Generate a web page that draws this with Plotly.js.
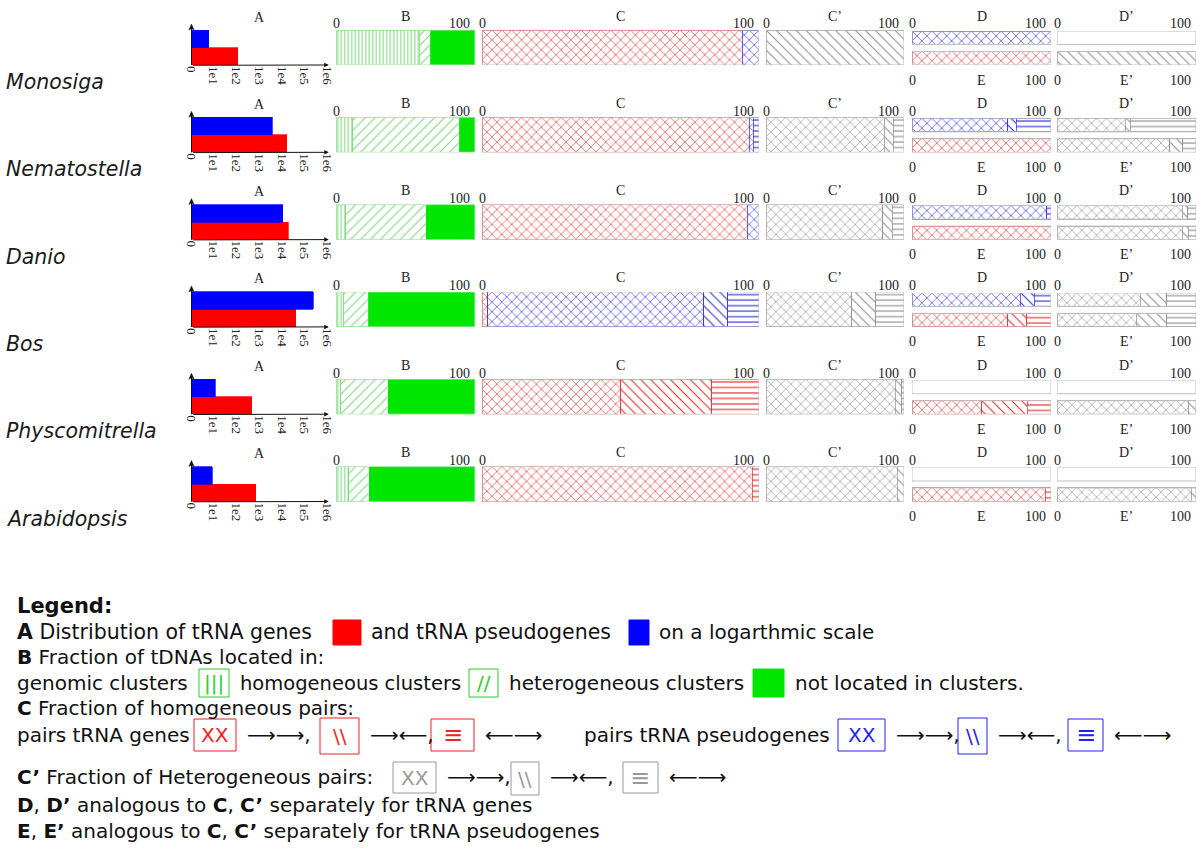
<!DOCTYPE html>
<html><head><meta charset="utf-8">
<script src="https://cdn.plot.ly/plotly-3.0.1.min.js"></script>
<style>html,body{margin:0;padding:0;background:#fff}</style>
</head><body><div id="chart" style="width:1200px;height:849px"></div>
<script>
// ---------------- DATA ----------------
const organisms = ["Monosiga","Nematostella","Danio","Bos","Physcomitrella","Arabidopsis"];
// A: number of tRNA genes / pseudogenes (log scale)
const tRNAGenes       = [115, 16500, 19000, 42000, 470, 720];
const tRNAPseudogenes = [6, 3800, 11000, 245000, 12, 8.5];
const aTickVals = [1,10,100,1000,10000,100000,1000000];
const aTickText = ["0","1e1","1e2","1e3","1e4","1e5","1e6"];
// B: fraction (%) of tDNAs
const bGenomic      = [60, 12, 7, 5.5, 3.5, 9];
const bHomogeneous  = [8, 77, 58, 18, 34, 15];
const bNotClustered = [32, 11, 35, 76.5, 62.5, 76];
// C: homogeneous pairs (%)
const cGeneSame   = [94, 96.5, 95.7, 2, 50, 97.5];
const cGeneConv   = [0, 0, 0, 0, 33, 0];
const cGeneDiv    = [0, 0, 0, 0, 17, 2.5];
const cPseudoSame = [6, 1.5, 4.3, 78, 0, 0];
const cPseudoConv = [0, 0, 0, 8.8, 0, 0];
const cPseudoDiv  = [0, 2, 0, 11.2, 0, 0];
// C': heterogeneous pairs (%)
const cpSame = [0, 85.7, 84.5, 62, 93.5, 95];
const cpConv = [100, 6.5, 7, 17.6, 4.8, 5];
const cpDiv  = [0, 7.8, 8.5, 20.4, 1.7, 0];
// D (upper bar) and E (lower bar)
const dSame = [100, 69, 97, 78, 0, 0];
const dConv = [0, 6, 0, 10, 0, 0];
const dDiv  = [0, 25, 3, 12, 0, 0];
const eSame = [100, 100, 100, 69, 50, 96];
const eConv = [0, 0, 0, 13.5, 33, 0];
const eDiv  = [0, 0, 0, 17.5, 17, 4];
// D' (upper bar) and E' (lower bar)
const dpSame = [0, 49, 90, 60, 0, 0];
const dpConv = [0, 3.6, 4, 19, 0, 0];
const dpDiv  = [0, 47.4, 6, 21, 0, 0];
const epSame = [0, 81, 90, 57, 94.5, 96.4];
const epConv = [100, 9.6, 4.5, 22, 5.5, 3.6];
const epDiv  = [0, 9.4, 5.5, 21, 0, 0];

// ---------------- STYLE / LAYOUT ----------------
const W = 1200, H = 849;
const SERIF = 'Liberation Serif, DejaVu Serif, serif';
const SANS = 'DejaVu Sans, sans-serif';
const ROW0 = 30, PITCH = 87.3, BARH = 35;
const PX = {A:[191,329], B:[336,475], C:[482,759], Cp:[766,904], D:[912,1051], Dp:[1057,1196]};
const RED = '#e42a2a', BLUE = '#2a2ae0', GRAY = '#8e8e8e', GREENH = '#7ad87a', GREEN = '#00e600';
const PX_X  = {shape:'x', size:7, solidity:0.17};
const PX_BS = {shape:'\\', size:7, solidity:0.15};
const PX_H  = {shape:'-', size:5.5, solidity:0.2};
const PX_V  = {shape:'|', size:3.5, solidity:0.3};
const PX_FS = {shape:'/', size:7, solidity:0.15};

const data = [], annotations = [], shapes = [];
const layout = {width:W, height:H, margin:{l:0,r:0,t:0,b:0}, paper_bgcolor:'#fff',
  plot_bgcolor:'rgba(0,0,0,0)', showlegend:false, barmode:'stack', bargap:0, hovermode:false,
  annotations, shapes};
let n = 0;
function axes(xr, yr, xo, yo){
  n++;
  const s = n===1 ? '' : String(n);
  const base = {showgrid:false, zeroline:false, showticklabels:false, showline:false, ticks:'', fixedrange:true};
  layout['xaxis'+s] = Object.assign({}, base, {domain:[xr[0]/W, xr[1]/W], anchor:'y'+s}, xo);
  layout['yaxis'+s] = Object.assign({}, base, {domain:[1-yr[1]/H, 1-yr[0]/H], anchor:'x'+s}, yo);
  return {x:'x'+s, y:'y'+s};
}
function seg(ax, vals, ys, w, color, pat, lineColor){
  const t = {type:'bar', orientation:'h', x: vals.map(v => v>0 ? v : null), y: ys,
    width: ys.map(() => w), xaxis: ax.x, yaxis: ax.y, hoverinfo:'skip',
    marker:{color: color, line:{color: lineColor || color, width:0.7}}};
  if (pat) t.marker.pattern = Object.assign({fgcolor: color, bgcolor:'#fff', fillmode:'replace'}, pat);
  data.push(t);
}
function frame(ax, y0, y1, color){
  shapes.push({type:'rect', xref:ax.x, yref:ax.y, x0:0, x1:100, y0:y0, y1:y1,
    line:{color:color, width:1}, fillcolor:'rgba(0,0,0,0)', layer:'above'});
}
function lab(ax, x, y, text, xanchor, xshift, size){
  annotations.push({xref:ax.x, yref:'paper', x:x, y:1-y/H, text:text, showarrow:false,
    xanchor:xanchor||'center', yanchor:'middle', xshift:xshift||0,
    font:{family:SERIF, size:size||14, color:'#222'}});
}
function topLabels(ax, letter, top){
  lab(ax, 0, top-6, '0', 'center');
  lab(ax, 50, top-14, letter, 'center');
  lab(ax, 100, top-6, '100', 'right', -3);
}
function bottomLabels(ax, letter, bot){
  lab(ax, 0, bot+15, '0', 'center');
  lab(ax, 50, bot+15, letter, 'center');
  lab(ax, 100, bot+15, '100', 'right', -3);
}
const fx = x => (x/W).toFixed(5), fy = y => (1-y/H).toFixed(5);

organisms.forEach((org, r) => {
  const top = ROW0 + PITCH*r, bot = top + BARH;
  annotations.push({xref:'paper', yref:'paper', x:4/W, y:1-(bot+17)/H, xanchor:'left', yanchor:'middle',
    text:'<i>'+org+'</i>', showarrow:false, font:{family:SANS, size:20.5, color:'#1a1a1a'}});
  // A  (range extended a little so the axis arrows fit inside)
  const a = axes(PX.A, [top-5.25,bot], {type:'log', range:[0,6.08], showticklabels:true, tickmode:'array',
    tickvals:aTickVals, ticktext:aTickText, tickangle:90, tickfont:{family:SERIF, size:13, color:'#222'}},
    {range:[-0.5,1.8]});
  seg(a, [tRNAGenes[r]], [0], 1, '#ff0000');
  seg(a, [tRNAPseudogenes[r]], [1], 1, '#0000ff');
  // horizontal axis arrow
  annotations.push({xref:a.x, yref:a.y, x:6.07, y:-0.5, ax:-137, ay:0.3, text:'',
    showarrow:true, arrowhead:2, arrowsize:0.9, arrowwidth:1, arrowcolor:'#111', standoff:0});
  // vertical axis arrow (line + head)
  const x0 = PX.A[0] + 0.5;
  shapes.push({type:'line', xref:'paper', yref:'paper', x0:x0/W, x1:x0/W, y0:1-bot/H, y1:1-(top-3)/H,
    line:{color:'#111', width:1}, layer:'above'});
  shapes.push({type:'path', xref:'paper', yref:'paper',
    path:'M '+fx(x0)+','+fy(top-6)+' L '+fx(x0-2.6)+','+fy(top)+' L '+fx(x0)+','+fy(top-1.5)+' L '+fx(x0+2.6)+','+fy(top)+' Z',
    fillcolor:'#111', line:{color:'#111', width:0.5}, layer:'above'});
  lab(a, 3, top-13, 'A', 'center');
  // B
  const b = axes(PX.B, [top,bot], {range:[0,100]}, {range:[-0.5,0.5]});
  seg(b, [bGenomic[r]], [0], 1, GREENH, PX_V);
  seg(b, [bHomogeneous[r]], [0], 1, GREENH, PX_FS);
  seg(b, [bNotClustered[r]], [0], 1, GREEN);
  frame(b, -0.5, 0.5, '#aee8ae');
  topLabels(b, 'B', top);
  // C
  const c = axes(PX.C, [top,bot], {range:[0,100]}, {range:[-0.5,0.5]});
  seg(c, [cGeneSame[r]], [0], 1, RED, PX_X);
  seg(c, [cGeneConv[r]], [0], 1, RED, PX_BS);
  seg(c, [cGeneDiv[r]], [0], 1, RED, PX_H);
  seg(c, [cPseudoSame[r]], [0], 1, BLUE, PX_X);
  seg(c, [cPseudoConv[r]], [0], 1, BLUE, PX_BS);
  seg(c, [cPseudoDiv[r]], [0], 1, BLUE, PX_H);
  frame(c, -0.5, 0.5, '#c4c4c4');
  topLabels(c, 'C', top);
  // C'
  const cp = axes(PX.Cp, [top,bot], {range:[0,100]}, {range:[-0.5,0.5]});
  seg(cp, [cpSame[r]], [0], 1, GRAY, PX_X);
  seg(cp, [cpConv[r]], [0], 1, GRAY, PX_BS);
  seg(cp, [cpDiv[r]], [0], 1, GRAY, PX_H);
  frame(cp, -0.5, 0.5, '#bdbdbd');
  topLabels(cp, 'C’', top);
  // D / E
  const d = axes(PX.D, [top+1,bot], {range:[0,100]}, {range:[-0.33,1.33]});
  seg(d, [dSame[r]], [1], 0.66, BLUE, PX_X);
  seg(d, [dConv[r]], [1], 0.66, BLUE, PX_BS);
  seg(d, [dDiv[r]], [1], 0.66, BLUE, PX_H);
  seg(d, [eSame[r]], [0], 0.66, RED, PX_X);
  seg(d, [eConv[r]], [0], 0.66, RED, PX_BS);
  seg(d, [eDiv[r]], [0], 0.66, RED, PX_H);
  frame(d, 0.67, 1.33, '#c4c4c4');
  frame(d, -0.33, 0.33, '#c4c4c4');
  topLabels(d, 'D', top);
  bottomLabels(d, 'E', bot);
  // D' / E'
  const dp = axes(PX.Dp, [top+1,bot], {range:[0,100]}, {range:[-0.33,1.33]});
  seg(dp, [dpSame[r], epSame[r]], [1,0], 0.66, GRAY, PX_X);
  seg(dp, [dpConv[r], epConv[r]], [1,0], 0.66, GRAY, PX_BS);
  seg(dp, [dpDiv[r], epDiv[r]], [1,0], 0.66, GRAY, PX_H);
  frame(dp, 0.67, 1.33, '#bdbdbd');
  frame(dp, -0.33, 0.33, '#bdbdbd');
  topLabels(dp, 'D’', top);
  bottomLabels(dp, 'E’', bot);
});

// ---------------- LEGEND TEXT ----------------
function T(x, y, text, size){
  annotations.push({xref:'paper', yref:'paper', x:x/W, y:1-y/H, xanchor:'left', yanchor:'middle',
    text:text, showarrow:false, font:{family:SANS, size:size||20, color:'#111'}});
}
function BOX(x0, x1, y0, y1, color, text, fill, size){
  shapes.push({type:'rect', xref:'paper', yref:'paper', x0:x0/W, x1:x1/W, y0:1-y1/H, y1:1-y0/H,
    line:{color:color, width:1}, fillcolor: fill ? color : 'rgba(0,0,0,0)'});
  if (text) annotations.push({xref:'paper', yref:'paper', x:(x0+x1)/2/W, y:1-(y0+y1)/2/H,
    xanchor:'center', yanchor:'middle', text:text, showarrow:false,
    font:{family:SANS, size:size||20, color:color}});
}
T(15, 606, '<b>Legend:</b>', 21);
T(15, 632, '<b>A</b> Distribution of tRNA genes', 20.5);
BOX(333, 361, 620, 645, '#ff0000', '', true);
T(369, 632, 'and tRNA pseudogenes', 20.5);
BOX(629, 649, 620, 645, '#0000ff', '', true);
T(657, 632, 'on a logarthmic scale');
T(15, 657, '<b>B</b> Fraction of tDNAs located in:');
T(15, 683, 'genomic clusters');
BOX(199, 229, 669, 697, '#2ecc2e', '|||');
T(238, 683, 'homogeneous clusters', 19.5);
BOX(469, 498, 669, 697, '#2ecc2e', '//');
T(507, 683, 'heterogeneous clusters');
BOX(753, 784, 669, 697, '#00e600', '', true);
T(793, 683, 'not located in clusters.');
T(15, 708, '<b>C</b> Fraction of homogeneous pairs:');
T(15, 735, 'pairs tRNA genes');
BOX(194, 236, 719, 751, '#ee2222', 'XX');
T(245, 735, '⟶⟶,');
BOX(320, 359, 718, 754, '#ee2222', '\\\\');
T(368, 735, '⟶⟵,');
BOX(431, 474, 719, 751, '#ee2222', '≡', false, 24);
T(483, 735, '⟵⟶');
T(582, 735, 'pairs tRNA pseudogenes');
BOX(838, 885, 719, 751, '#2222ee', 'XX');
T(894, 735, '⟶⟶,');
BOX(958, 987, 718, 754, '#2222ee', '\\\\');
T(996, 735, '⟶⟵,');
BOX(1068, 1103, 719, 751, '#2222ee', '≡', false, 24);
T(1112, 735, '⟵⟶');
T(15, 777, '<b>C’</b> Fraction of Heterogeneous pairs:');
BOX(393, 436, 762, 793, '#999999', 'XX');
T(445, 777, '⟶⟶,');
BOX(511, 539, 762, 795, '#999999', '\\\\');
T(548, 777, '⟶⟵,');
BOX(623, 658, 762, 793, '#999999', '≡', false, 24);
T(667, 777, '⟵⟶');
T(15, 805, '<b>D</b>, <b>D’</b> analogous to <b>C</b>, <b>C’</b> separately for tRNA genes');
T(15, 831, '<b>E</b>, <b>E’</b> analogous to <b>C</b>, <b>C’</b> separately for tRNA pseudogenes');

Plotly.newPlot('chart', data, layout, {staticPlot:true, displayModeBar:false});
</script>
</body></html>
